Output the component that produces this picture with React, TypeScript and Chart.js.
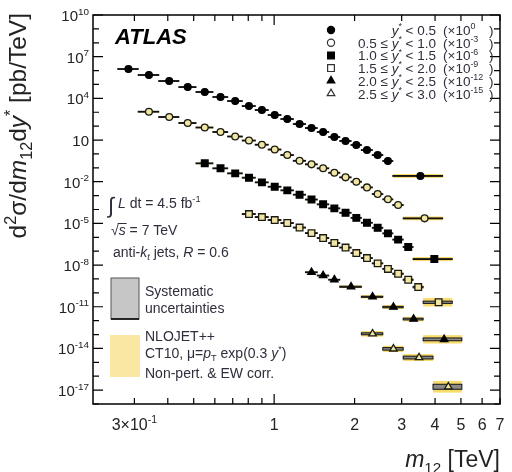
import React, { useEffect, useRef } from 'react';
import { Chart, registerables } from 'chart.js';

Chart.register(...registerables);

// ---------------- axis ranges / ticks ----------------
const X_MIN = 0.21;
const X_MAX = 7;
const Y_MIN = 1e-18;
const Y_MAX = 1e10;

const Y_TICK_EXPONENTS = [10, 9, 8, 7, 6, 5, 4, 3, 2, 1, 0, -1, -2, -3, -4, -5, -6, -7, -8, -9, -10, -11, -12, -13, -14, -15, -16, -17, -18];
const Y_LABEL_EXPONENTS = [10, 7, 4, 1, -2, -5, -8, -11, -14, -17];
const X_TICK_VALUES = [0.3, 0.4, 0.5, 0.6, 0.7, 0.8, 0.9, 1, 2, 3, 4, 5, 6, 7];
const X_LABEL_VALUES = [0.3, 1, 2, 3, 4, 5, 6, 7];
const X_LABEL_BASE = ['3×10', '1', '2', '3', '4', '5', '6', '7'];
const X_LABEL_EXP = ['-1', '', '', '', '', '', '', ''];

// ---------------- data (plotted values, already scaled) ----------------
// y* < 0.5 (x10^0)
const S1_LO = [0.26, 0.31, 0.37, 0.44, 0.51, 0.59, 0.67, 0.76, 0.85, 0.95, 1.06, 1.18, 1.31, 1.45, 1.60, 1.76, 1.94, 2.12, 2.33, 2.55, 2.78];
const S1_HI = [0.31, 0.37, 0.44, 0.51, 0.59, 0.67, 0.76, 0.85, 0.95, 1.06, 1.18, 1.31, 1.45, 1.60, 1.76, 1.94, 2.12, 2.33, 2.55, 2.78, 4.27];
const S1_Y = [1.29e6, 4.8e5, 1.77e5, 6.5e4, 2.86e4, 1.25e4, 6.4e3, 2.8e3, 1.45e3, 632, 326, 142, 73, 37.8, 16.5, 8.5, 4.4, 1.9, 0.83, 0.31, 0.026];
const S1_THY = [0.06, 0.06, 0.06, 0.06, 0.06, 0.06, 0.06, 0.06, 0.06, 0.06, 0.06, 0.06, 0.06, 0.06, 0.06, 0.06, 0.06, 0.06, 0.06, 0.06, 0.14];
const S1_SYS = [0.03, 0.03, 0.03, 0.03, 0.03, 0.03, 0.03, 0.03, 0.03, 0.03, 0.03, 0.03, 0.03, 0.03, 0.03, 0.03, 0.03, 0.03, 0.03, 0.03, 0.03];

// 0.5 <= y* < 1.0 (x10^-3)
const S2_LO = [0.31, 0.37, 0.44, 0.51, 0.59, 0.67, 0.76, 0.85, 0.95, 1.06, 1.18, 1.31, 1.45, 1.60, 1.76, 1.94, 2.12, 2.33, 2.55, 2.78, 3.04];
const S2_HI = [0.37, 0.44, 0.51, 0.59, 0.67, 0.76, 0.85, 0.95, 1.06, 1.18, 1.31, 1.45, 1.60, 1.76, 1.94, 2.12, 2.33, 2.55, 2.78, 3.04, 4.27];
const S2_Y = [1.09e3, 454, 168, 79.6, 37.8, 17.9, 9.2, 4.6, 2.07, 0.83, 0.32, 0.178, 0.092, 0.044, 0.0206, 0.00995, 0.0039, 0.0013, 5.4e-4, 2.1e-4, 2.3e-5];
const S2_THY = [0.06, 0.06, 0.06, 0.06, 0.06, 0.06, 0.06, 0.06, 0.06, 0.06, 0.06, 0.06, 0.06, 0.06, 0.06, 0.06, 0.06, 0.06, 0.06, 0.07, 0.14];
const S2_SYS = [0.03, 0.03, 0.03, 0.03, 0.03, 0.03, 0.03, 0.03, 0.03, 0.03, 0.03, 0.03, 0.03, 0.03, 0.03, 0.03, 0.03, 0.03, 0.03, 0.03, 0.03];

// 1.0 <= y* < 1.5 (x10^-6)
const S3_LO = [0.51, 0.59, 0.67, 0.76, 0.85, 0.95, 1.06, 1.18, 1.31, 1.45, 1.60, 1.76, 1.94, 2.12, 2.33, 2.55, 2.78, 3.04, 3.31];
const S3_HI = [0.59, 0.67, 0.76, 0.85, 0.95, 1.06, 1.18, 1.31, 1.45, 1.60, 1.76, 1.94, 2.12, 2.33, 2.55, 2.78, 3.04, 3.31, 4.64];
const S3_Y = [0.21, 0.092, 0.040, 0.0194, 0.0090, 0.00435, 0.00239, 0.00116, 5.2e-4, 2.35e-4, 1.21e-4, 5.8e-5, 2.5e-5, 1.11e-5, 4.8e-6, 1.92e-6, 6.8e-7, 2.0e-7, 2.7e-8];
const S3_THY = [0.06, 0.06, 0.06, 0.06, 0.06, 0.06, 0.06, 0.06, 0.06, 0.06, 0.06, 0.06, 0.06, 0.06, 0.06, 0.06, 0.07, 0.08, 0.15];
const S3_SYS = [0.03, 0.03, 0.03, 0.03, 0.03, 0.03, 0.03, 0.03, 0.03, 0.03, 0.03, 0.03, 0.03, 0.03, 0.03, 0.03, 0.03, 0.03, 0.03];

// 1.5 <= y* < 2.0 (x10^-9)
const S4_LO = [0.76, 0.85, 0.95, 1.06, 1.18, 1.31, 1.45, 1.60, 1.76, 1.94, 2.12, 2.33, 2.55, 2.78, 3.04, 3.31, 3.61];
const S4_HI = [0.85, 0.95, 1.06, 1.18, 1.31, 1.45, 1.60, 1.76, 1.94, 2.12, 2.33, 2.55, 2.78, 3.04, 3.31, 3.61, 4.64];
const S4_Y = [4.7e-5, 2.86e-5, 1.74e-5, 1.06e-5, 5.0e-6, 2.0e-6, 8.8e-7, 3.85e-7, 1.82e-7, 7.3e-8, 3.2e-8, 1.33e-8, 5.3e-9, 2.37e-9, 8.8e-10, 2.6e-10, 2.1e-11];
const S4_THY = [0.06, 0.06, 0.06, 0.06, 0.06, 0.06, 0.06, 0.06, 0.06, 0.06, 0.06, 0.06, 0.07, 0.08, 0.09, 0.1, 0.3];
const S4_SYS = [0.03, 0.03, 0.03, 0.03, 0.03, 0.03, 0.03, 0.03, 0.03, 0.03, 0.03, 0.03, 0.03, 0.04, 0.04, 0.05, 0.08];

// 2.0 <= y* < 2.5 (x10^-12)
const S5_LO = [1.31, 1.45, 1.60, 1.76, 2.12, 2.55, 3.04, 3.61];
const S5_HI = [1.45, 1.60, 1.76, 2.12, 2.55, 3.04, 3.61, 5.04];
const S5_Y = [3.04e-9, 1.76e-9, 8.8e-10, 2.75e-10, 5.2e-11, 9.5e-12, 1.3e-12, 4.5e-14];
const S5_THY = [0.06, 0.06, 0.07, 0.1, 0.12, 0.14, 0.16, 0.3];
const S5_SYS = [0.03, 0.03, 0.03, 0.04, 0.04, 0.05, 0.06, 0.1];

// 2.5 <= y* < 3.0 (x10^-15)
const S6_LO = [2.12, 2.55, 3.04, 3.93];
const S6_HI = [2.55, 3.04, 3.93, 5.04];
const S6_Y = [1.13e-13, 9.3e-15, 2.2e-15, 1.74e-17];
const S6_THY = [0.2, 0.22, 0.25, 0.42];
const S6_SYS = [0.07, 0.09, 0.1, 0.18];

// legend
const LEGEND_STYLES = ['circle', 'circle', 'rect', 'rect', 'triangle', 'triangle'];
const LEGEND_FILLED = [true, false, true, false, true, false];
const LEGEND_LOW = ['', '0.5 ≤ ', '1.0 ≤ ', '1.5 ≤ ', '2.0 ≤ ', '2.5 ≤ '];
const LEGEND_HIGH = ['0.5', '1.0', '1.5', '2.0', '2.5', '3.0'];
const LEGEND_EXP = ['0', '-3', '-6', '-9', '-12', '-15'];

// ---------------- styling helpers ----------------
const FONT = "'Liberation Sans', Arial, Helvetica, sans-serif";
const TEXT_COLOR = '#2e2e3c';
const OPEN_FILL = '#f1e6a6';

type Kind = 'n' | 'i' | 'sup' | 'sub' | 'supi' | 'subi' | 'b';
type Seg = [string, Kind?];

function segFont(kind: Kind, size: number): string {
  const small = kind === 'sup' || kind === 'sub' || kind === 'supi' || kind === 'subi';
  const italic = kind === 'i' || kind === 'supi' || kind === 'subi';
  const s = small ? size * 0.66 : size;
  return `${italic ? 'italic ' : ''}${s}px ${FONT}`;
}
function segDy(kind: Kind, size: number): number {
  if (kind === 'sup' || kind === 'supi') return -size * 0.42;
  if (kind === 'sub' || kind === 'subi') return size * 0.24;
  return 0;
}
function richWidth(ctx: CanvasRenderingContext2D, segs: Seg[], size: number): number {
  let w = 0;
  for (const [t, k] of segs) {
    ctx.font = segFont(k || 'n', size);
    w += ctx.measureText(t).width;
  }
  return w;
}
function drawRich(
  ctx: CanvasRenderingContext2D,
  segs: Seg[],
  x: number,
  y: number,
  size: number,
  align: 'left' | 'right' | 'center',
  color: string
) {
  const w = richWidth(ctx, segs, size);
  let cx = align === 'left' ? x : align === 'right' ? x - w : x - w / 2;
  ctx.fillStyle = color;
  ctx.textAlign = 'left';
  ctx.textBaseline = 'alphabetic';
  for (const [t, k] of segs) {
    const kind = k || 'n';
    ctx.font = segFont(kind, size);
    ctx.fillText(t, cx, y + segDy(kind, size));
    cx += ctx.measureText(t).width;
  }
  return w;
}

function drawMarker(ctx: CanvasRenderingContext2D, style: string, filled: boolean, x: number, y: number) {
  ctx.beginPath();
  if (style === 'circle') {
    ctx.arc(x, y, 3.6, 0, Math.PI * 2);
  } else if (style === 'rect') {
    ctx.rect(x - 3.4, y - 3.4, 6.8, 6.8);
  } else {
    const r = 4.4;
    ctx.moveTo(x, y - r);
    ctx.lineTo(x + r * 0.866, y + r * 0.5);
    ctx.lineTo(x - r * 0.866, y + r * 0.5);
    ctx.closePath();
  }
  ctx.fillStyle = filled ? '#000' : '#ffffff';
  ctx.fill();
  ctx.strokeStyle = filled ? '#000' : '#333';
  ctx.lineWidth = 1.2;
  ctx.stroke();
}

const SERIES = [
  { lo: S1_LO, hi: S1_HI, y: S1_Y, thy: S1_THY, sys: S1_SYS },
  { lo: S2_LO, hi: S2_HI, y: S2_Y, thy: S2_THY, sys: S2_SYS },
  { lo: S3_LO, hi: S3_HI, y: S3_Y, thy: S3_THY, sys: S3_SYS },
  { lo: S4_LO, hi: S4_HI, y: S4_Y, thy: S4_THY, sys: S4_SYS },
  { lo: S5_LO, hi: S5_HI, y: S5_Y, thy: S5_THY, sys: S5_SYS },
  { lo: S6_LO, hi: S6_HI, y: S6_Y, thy: S6_THY, sys: S6_SYS },
];

const bandsPlugin = {
  id: 'bands',
  beforeDatasetsDraw(chart: any) {
    const { ctx, chartArea: a, scales } = chart;
    const xs = scales.x;
    const ys = scales.y;
    ctx.save();
    ctx.beginPath();
    ctx.rect(a.left, a.top, a.right - a.left, a.bottom - a.top);
    ctx.clip();
    // theory (yellow)
    for (const s of SERIES) {
      s.y.forEach((v: number, i: number) => {
        const x0 = xs.getPixelForValue(s.lo[i]);
        const x1 = xs.getPixelForValue(s.hi[i]);
        const t = Math.pow(10, s.thy[i]);
        const y0 = ys.getPixelForValue(v * t);
        const y1 = ys.getPixelForValue(v / t);
        ctx.fillStyle = 'rgba(246, 210, 70, 0.8)';
        ctx.fillRect(x0, y0, x1 - x0, y1 - y0);
      });
    }
    // systematics (grey box, black outline)
    for (const s of SERIES) {
      s.y.forEach((v: number, i: number) => {
        const x0 = xs.getPixelForValue(s.lo[i]);
        const x1 = xs.getPixelForValue(s.hi[i]);
        const t = Math.pow(10, s.sys[i]);
        const y0 = ys.getPixelForValue(v * t);
        const y1 = ys.getPixelForValue(v / t);
        ctx.fillStyle = '#8a8a8a';
        ctx.fillRect(x0, y0, x1 - x0, y1 - y0);
        ctx.strokeStyle = '#111';
        ctx.lineWidth = 1;
        ctx.strokeRect(x0, y0, x1 - x0, y1 - y0);
      });
    }
    ctx.restore();
  },
};

const decorPlugin = {
  id: 'decor',
  afterDraw(chart: any) {
    const { ctx, chartArea: a, scales } = chart;
    const xs = scales.x;
    const ys = scales.y;
    ctx.save();

    // frame
    ctx.strokeStyle = '#000';
    ctx.lineWidth = 1.5;
    ctx.strokeRect(a.left, a.top, a.right - a.left, a.bottom - a.top);

    // y ticks (left + right)
    ctx.lineWidth = 1.2;
    for (const e of Y_TICK_EXPONENTS) {
      const py = ys.getPixelForValue(Math.pow(10, e));
      const len = Y_LABEL_EXPONENTS.includes(e) ? 10 : 6;
      ctx.beginPath();
      ctx.moveTo(a.left, py);
      ctx.lineTo(a.left + len, py);
      ctx.moveTo(a.right, py);
      ctx.lineTo(a.right - len, py);
      ctx.stroke();
    }
    // x ticks (bottom + top)
    for (const v of X_TICK_VALUES) {
      const px = xs.getPixelForValue(v);
      const len = v === 1 ? 10 : 6;
      ctx.beginPath();
      ctx.moveTo(px, a.bottom);
      ctx.lineTo(px, a.bottom - len);
      ctx.moveTo(px, a.top);
      ctx.lineTo(px, a.top + len);
      ctx.stroke();
    }

    // y tick labels
    for (const e of Y_LABEL_EXPONENTS) {
      const py = ys.getPixelForValue(Math.pow(10, e));
      const segs: Seg[] = e === 1 ? [['10']] : [['10'], [String(e), 'sup']];
      drawRich(ctx, segs, 89, py + 6, 15, 'right', '#222');
    }
    // x tick labels
    X_LABEL_VALUES.forEach((v, i) => {
      const px = xs.getPixelForValue(v);
      const segs: Seg[] = X_LABEL_EXP[i] ? [[X_LABEL_BASE[i]], [X_LABEL_EXP[i], 'sup']] : [[X_LABEL_BASE[i]]];
      drawRich(ctx, segs, px, 430, 16, 'center', '#222');
    });

    // axis titles
    drawRich(ctx, [['m', 'i'], ['12', 'sub'], [' [TeV]']], 500, 467, 23, 'right', '#222');
    ctx.save();
    ctx.translate(26, 13);
    ctx.rotate(-Math.PI / 2);
    drawRich(
      ctx,
      [['d'], ['2', 'sup'], ['σ/d'], ['m', 'i'], ['12', 'sub'], ['d'], ['y', 'i'], ['*', 'sup'], [' [pb/TeV]']],
      0,
      0,
      24.5,
      'right',
      '#222'
    );
    ctx.restore();

    // ATLAS label
    ctx.font = `italic bold 22px ${FONT}`;
    ctx.fillStyle = '#000';
    ctx.textAlign = 'left';
    ctx.fillText('ATLAS', 115, 44);

    // legend
    LEGEND_STYLES.forEach((st, i) => {
      const ry = 30 + i * 12.7;
      drawMarker(ctx, st, LEGEND_FILLED[i], 331, ry);
      const segs: Seg[] = [];
      if (LEGEND_LOW[i]) segs.push([LEGEND_LOW[i]]);
      segs.push(['y', 'i'], ['*', 'sup'], [' < ' + LEGEND_HIGH[i]]);
      drawRich(ctx, segs, 436, ry + 5, 13.5, 'right', TEXT_COLOR);
      drawRich(ctx, [['(×10'], [LEGEND_EXP[i], 'sup']], 443, ry + 5, 13.5, 'left', TEXT_COLOR);
      drawRich(ctx, [[')']], 489, ry + 5, 13.5, 'left', TEXT_COLOR);
    });

    // annotations
    ctx.font = `22px ${FONT}`;
    ctx.fillStyle = TEXT_COLOR;
    ctx.fillText('∫', 108, 213);
    drawRich(ctx, [['L', 'i'], [' dt = 4.5 fb'], ['-1', 'sup']], 118, 208, 14, 'left', TEXT_COLOR);
    const w0 = drawRich(ctx, [['√']], 111, 235, 14, 'left', TEXT_COLOR);
    ctx.font = `italic 14px ${FONT}`;
    const sw = ctx.measureText('s').width;
    ctx.strokeStyle = TEXT_COLOR;
    ctx.lineWidth = 1;
    ctx.beginPath();
    ctx.moveTo(111 + w0 - 1, 223.5);
    ctx.lineTo(111 + w0 + sw + 1, 223.5);
    ctx.stroke();
    drawRich(ctx, [['s', 'i'], [' = 7 TeV']], 111 + w0, 235, 14, 'left', TEXT_COLOR);
    drawRich(ctx, [['anti-'], ['k', 'i'], ['t', 'subi'], [' jets, '], ['R', 'i'], [' = 0.6']], 113, 257, 14, 'left', TEXT_COLOR);

    // systematic legend box
    ctx.fillStyle = '#c6c6c6';
    ctx.fillRect(111, 278, 28, 41);
    ctx.strokeStyle = '#555';
    ctx.lineWidth = 1;
    ctx.strokeRect(111, 278, 28, 41);
    ctx.strokeStyle = '#000';
    ctx.lineWidth = 1.5;
    ctx.beginPath();
    ctx.moveTo(111, 319);
    ctx.lineTo(139, 319);
    ctx.stroke();
    drawRich(ctx, [['Systematic']], 145, 296, 14, 'left', TEXT_COLOR);
    drawRich(ctx, [['uncertainties']], 145, 313, 14, 'left', TEXT_COLOR);

    // theory legend box
    ctx.fillStyle = '#fbe7a4';
    ctx.fillRect(110, 335, 30, 42);
    drawRich(ctx, [['NLOJET++']], 145, 341, 14, 'left', TEXT_COLOR);
    drawRich(
      ctx,
      [['CT10, μ='], ['p', 'i'], ['T', 'sub'], [' exp(0.3 '], ['y', 'i'], ['*', 'sup'], [')']],
      145,
      358,
      14,
      'left',
      TEXT_COLOR
    );
    drawRich(ctx, [['Non-pert. & EW corr.']], 145, 378, 14, 'left', TEXT_COLOR);

    ctx.restore();
  },
};

function points(lo: number[], hi: number[], y: number[]) {
  return lo.map((l, i) => ({ x: (l + hi[i]) / 2, y: y[i] }));
}

export default function App() {
  const ref = useRef<HTMLCanvasElement>(null);
  useEffect(() => {
    document.body.style.margin = '0';
    const canvas = ref.current;
    if (!canvas) return;
    const mkSet = (label: string, lo: number[], hi: number[], y: number[], style: string, filled: boolean, r: number) => ({
      label,
      data: points(lo, hi, y),
      pointStyle: style,
      pointRadius: r,
      pointHoverRadius: r,
      backgroundColor: filled ? '#000' : OPEN_FILL,
      borderColor: filled ? '#000' : '#1a1a10',
      pointBorderWidth: 1.3,
      borderWidth: 1.3,
      showLine: false,
    });
    const chart = new Chart(canvas, {
      type: 'scatter',
      data: {
        datasets: [
          mkSet('y* < 0.5 (×10^0)', S1_LO, S1_HI, S1_Y, 'circle', true, 3.4),
          mkSet('0.5 ≤ y* < 1.0 (×10^-3)', S2_LO, S2_HI, S2_Y, 'circle', false, 3.4),
          mkSet('1.0 ≤ y* < 1.5 (×10^-6)', S3_LO, S3_HI, S3_Y, 'rect', true, 4.7),
          mkSet('1.5 ≤ y* < 2.0 (×10^-9)', S4_LO, S4_HI, S4_Y, 'rect', false, 4.7),
          mkSet('2.0 ≤ y* < 2.5 (×10^-12)', S5_LO, S5_HI, S5_Y, 'triangle', true, 4.3),
          mkSet('2.5 ≤ y* < 3.0 (×10^-15)', S6_LO, S6_HI, S6_Y, 'triangle', false, 4.3),
        ] as any,
      },
      options: {
        animation: false,
        responsive: false,
        devicePixelRatio: 1,
        events: [],
        layout: { padding: { left: 93, right: 12, top: 15, bottom: 68 } },
        plugins: { legend: { display: false }, tooltip: { enabled: false } },
        scales: {
          x: { type: 'logarithmic', min: X_MIN, max: X_MAX, display: false },
          y: { type: 'logarithmic', min: Y_MIN, max: Y_MAX, display: false },
        },
      } as any,
      plugins: [bandsPlugin, decorPlugin],
    });
    return () => chart.destroy();
  }, []);
  return <canvas ref={ref} width={512} height={472} style={{ display: 'block', width: 512, height: 472 }} />;
}
